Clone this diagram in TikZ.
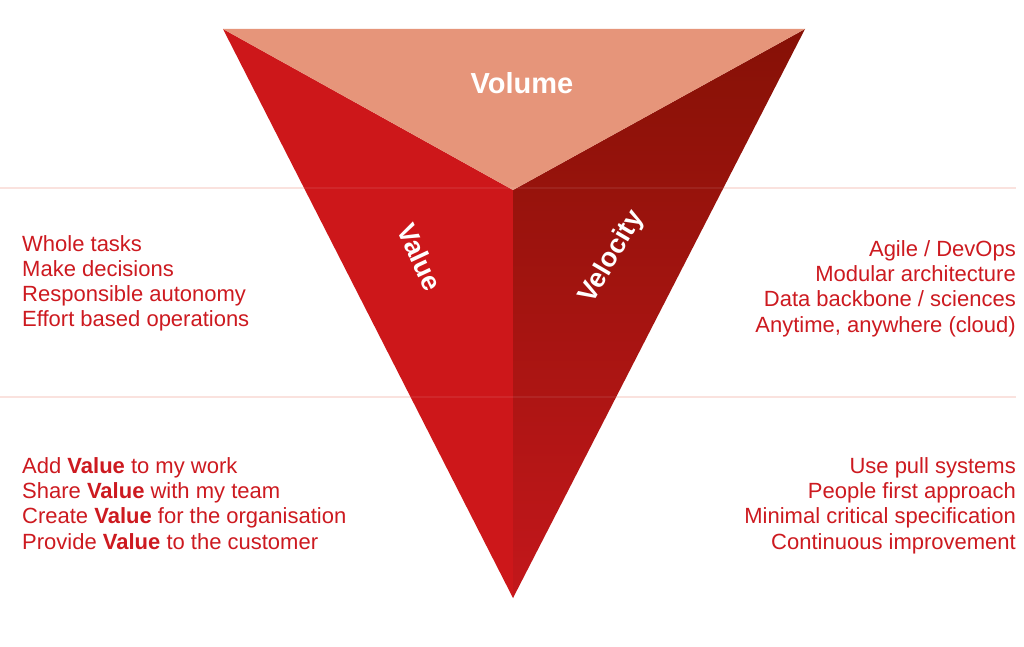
\documentclass[tikz,border=0pt]{standalone}
\usepackage{fontspec}
\setmainfont{Liberation Sans}
\definecolor{txtred}{HTML}{CD1A20}
\definecolor{topface}{HTML}{E6957A}
\definecolor{leftface}{HTML}{CD171A}
\definecolor{rightdark}{HTML}{861106}
\definecolor{rightlight}{HTML}{C3171B}
\definecolor{guide}{HTML}{FAE0DC}
\tikzset{
  item/.style={inner sep=0pt, text=txtred, font=\fontsize{22}{25}\selectfont},
  lft/.style={item, anchor=base west},
  rgt/.style={item, anchor=base east},
  facelabel/.style={inner sep=0pt, text=white, font=\bfseries\fontsize{27}{30}\selectfont},
  guideline/.style={draw=guide, line width=1.3pt}
}
\begin{document}
\begin{tikzpicture}[x=1pt,y=-1pt]
\useasboundingbox (0,0) rectangle (1024,647);
\fill[white] (0,0) rectangle (1024,647);
% corners
\coordinate (TL) at (223,29);
\coordinate (TR) at (805,29);
\coordinate (C) at (513,190);
\coordinate (B) at (513,598);
\coordinate (g1a) at (0,188);
\coordinate (g1b) at (1016,188);
\coordinate (g2a) at (0,397);
\coordinate (g2b) at (1016,397);
% guide lines (under the triangle)
\draw[guideline] (g1a) -- (g1b);
\draw[guideline] (g2a) -- (g2b);
% faces
\fill[leftface] (TL) -- (C) -- (B) -- cycle;
\shade[top color=rightdark, bottom color=rightlight] (TR) -- (C) -- (B) -- cycle;
\fill[topface] (TL) -- (TR) -- (C) -- cycle;
% faint guide lines crossing the triangle
\draw[white, opacity=0.07, line width=1.3pt] (g1a) -- (g1b);
\draw[white, opacity=0.07, line width=1.3pt] (g2a) -- (g2b);
% face labels
\node[facelabel, font=\bfseries\fontsize{29}{32}\selectfont] (volume) at (522,83) {Volume};
\node[facelabel, rotate=-65] (value) at (420,257) {Value};
\node[facelabel, rotate=59.5] (velocity) at (612,257) {Velocity};
% left upper block
\node[lft] (l1) at (22,251) {Whole tasks};
\node[lft] (l2) at (22,276.5) {Make decisions};
\node[lft] (l3) at (22,301.5) {Responsible autonomy};
\node[lft] (l4) at (22,326.5) {Effort based operations};
% right upper block
\node[rgt] (r1) at (1016,256) {Agile / DevOps};
\node[rgt] (r2) at (1016,281.5) {Modular architecture};
\node[rgt] (r3) at (1016,306.5) {Data backbone / sciences};
\node[rgt] (r4) at (1016,332) {Anytime, anywhere (cloud)};
% left lower block
\node[lft] (l5) at (22,473) {Add \textbf{Value} to my work};
\node[lft] (l6) at (22,498.5) {Share \textbf{Value} with my team};
\node[lft] (l7) at (22,523.5) {Create \textbf{Value} for the organisation};
\node[lft] (l8) at (22,549) {Provide \textbf{Value} to the customer};
% right lower block
\node[rgt] (r5) at (1016,473) {Use pull systems};
\node[rgt] (r6) at (1016,498.5) {People first approach};
\node[rgt] (r7) at (1016,523.5) {Minimal critical specification};
\node[rgt] (r8) at (1016,549) {Continuous improvement};
\end{tikzpicture}
\end{document}
